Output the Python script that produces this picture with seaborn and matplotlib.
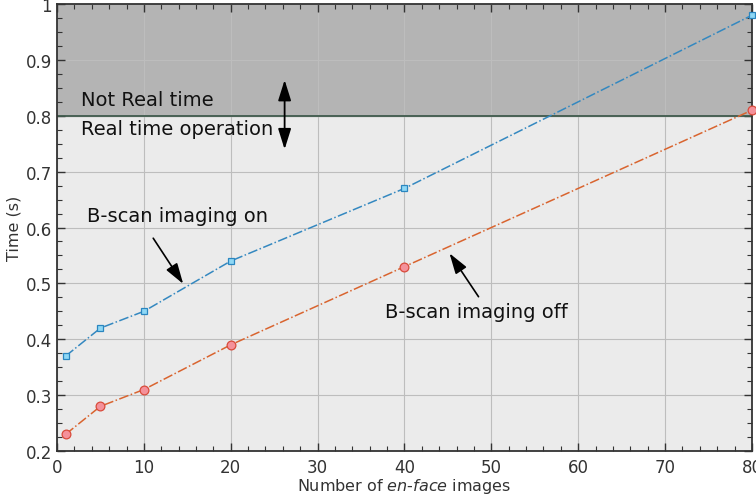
import numpy as np
import pandas as pd
import seaborn as sns
import matplotlib.pyplot as plt
from matplotlib.ticker import MultipleLocator

# data
n_images = [1, 5, 10, 20, 40, 80]
time_on = [0.37, 0.42, 0.45, 0.54, 0.67, 0.98]
time_off = [0.23, 0.28, 0.31, 0.39, 0.53, 0.81]
y_ticks = [0.2, 0.3, 0.4, 0.5, 0.6, 0.7, 0.8, 0.9, 1.0]
y_tick_labels = ["0.2", "0.3", "0.4", "0.5", "0.6", "0.7", "0.8", "0.9", "1"]
x_ticks = [0, 10, 20, 30, 40, 50, 60, 70, 80]
real_time_limit = 0.8

sns.set_style("ticks")
plt.rcParams["font.family"] = ["DejaVu Sans"]
plt.rcParams["axes.unicode_minus"] = False

df = pd.DataFrame({"n": n_images, "on": time_on, "off": time_off})

fig = plt.figure(figsize=(7.56, 5.02), dpi=100)
ax = fig.add_axes([0.0754, 0.0996, 0.9193, 0.8904])

ax.set_xlim(0, 80)
ax.set_ylim(0.2, 1.0)

# background regions
ax.axhspan(0.2, real_time_limit, color="#ebebeb", zorder=0)
ax.axhspan(real_time_limit, 1.0, color="#b4b4b4", zorder=0)
ax.set_axisbelow(True)
ax.grid(True, color="#bdbdbd", linewidth=0.8, zorder=0.5)
ax.axhline(real_time_limit, color="#3f5a4c", linewidth=1.3, zorder=1)

sns.lineplot(data=df, x="n", y="on", ax=ax, color="#3488c0", linestyle="-.",
             linewidth=1.1, marker="s", markersize=5,
             markerfacecolor="#8fd8f5", markeredgecolor="#2a86c0", markeredgewidth=0.9,
             zorder=3)
sns.lineplot(data=df, x="n", y="off", ax=ax, color="#d9642f", linestyle="-.",
             linewidth=1.1, marker="o", markersize=6.3,
             markerfacecolor="#f4919a", markeredgecolor="#d94b3b", markeredgewidth=0.9,
             zorder=3)
for ln in ax.lines[-2:]:
    ln.set_clip_on(False)

ax.set_xticks(x_ticks)
ax.set_yticks(y_ticks)
ax.set_yticklabels(y_tick_labels)
ax.xaxis.set_minor_locator(MultipleLocator(2))
ax.yaxis.set_minor_locator(MultipleLocator(0.025))
ax.tick_params(which="both", direction="in", top=True, right=True,
               colors="#333333", labelsize=12)
ax.tick_params(axis="x", pad=5)
ax.tick_params(which="major", length=6, width=1)
ax.tick_params(which="minor", length=3.5, width=0.8)
for sp in ax.spines.values():
    sp.set_color("#333333")
    sp.set_linewidth(1.3)

ax.set_xlabel("Number of $\\it{en}$-$\\it{face}$ images", fontsize=11.5, color="#333333", labelpad=0)
ax.set_ylabel("Time (s)", fontsize=11.5, color="#333333", labelpad=3)

# annotations
txt = dict(fontsize=14, va="center", color="#111111")
arrow_style = "-|>,head_length=0.7,head_width=0.22"
ax.text(2.8, 0.83, "Not Real time", **txt)
ax.text(2.8, 0.778, "Real time operation", **txt)
ax.annotate("", xy=(26.2, 0.869), xytext=(26.2, 0.735),
            arrowprops=dict(arrowstyle="<|-|>,head_length=0.7,head_width=0.22",
                            color="black", lw=1.3, mutation_scale=18))

ax.text(3.4, 0.622, "B-scan imaging on", **txt)
ax.annotate("", xy=(14.7, 0.495), xytext=(10.9, 0.585),
            arrowprops=dict(arrowstyle=arrow_style, color="black", lw=1.2, mutation_scale=18))

ax.text(37.8, 0.449, "B-scan imaging off", **txt)
ax.annotate("", xy=(45.0, 0.558), xytext=(48.7, 0.472),
            arrowprops=dict(arrowstyle=arrow_style, color="black", lw=1.2, mutation_scale=18))

fig.savefig("out.png", dpi=100)
